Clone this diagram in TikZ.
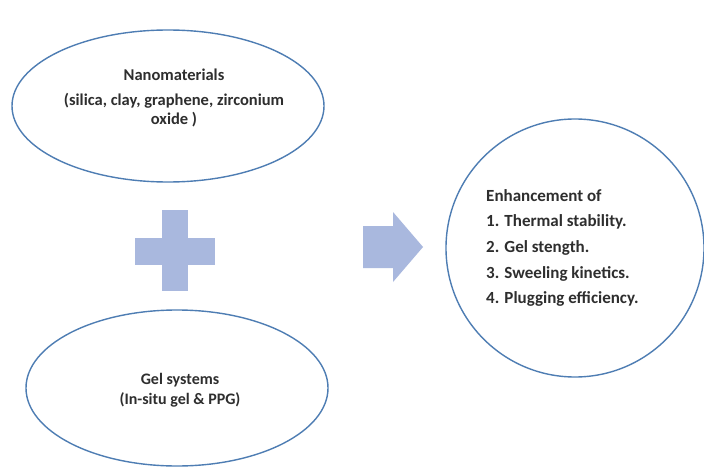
\documentclass[tikz,border=0pt]{standalone}
\usepackage{fontspec}
\setmainfont{Carlito}
\usetikzlibrary{shapes.geometric}
\definecolor{rim}{HTML}{4E7DB3}
\definecolor{blocktint}{HTML}{A9B8DE}
\definecolor{ink}{HTML}{2E2E2E}
\tikzset{
  bubble/.style={draw=rim, line width=1.4pt, fill=white, ellipse, inner sep=0pt},
  txtstyle/.style={text=ink, font=\bfseries\fontsize{16.5}{19.5}\selectfont, align=center, inner sep=0pt},
}
\begin{document}
\begin{tikzpicture}[x=1pt,y=-1pt]
\useasboundingbox[fill=white] (0,0) rectangle (704,468);
% top ellipse
\node[bubble, minimum width=312pt, minimum height=152pt] (nano) at (168,106) {};
\node[txtstyle] (nanot) at (174,98) {Nanomaterials\\[5pt](silica, clay, graphene, zirconium\\oxide )};
% bottom ellipse
\node[bubble, minimum width=302pt, minimum height=156pt] (gel) at (177,388) {};
\node[txtstyle, font=\bfseries\fontsize{16}{17}\selectfont] (gelt) at (180,390) {Gel systems\\[3pt](In-situ gel \& PPG)};
% plus
\fill[blocktint] (162,210) rectangle (188,291);
\fill[blocktint] (135,238) rectangle (215,265);
% arrow
\coordinate (arrtip) at (423,247);
\fill[blocktint] (363,226) -- (393,226) -- (393,212) -- (arrtip) -- (393,282) -- (393,268) -- (363,268) -- cycle;
% circle
\node[draw=rim, line width=1.4pt, circle, minimum size=258pt, inner sep=0pt] (res) at (575,248) {};
\node[text=ink, font=\bfseries\fontsize{17}{25.7}\selectfont, align=left, anchor=north west, inner sep=0pt] (rest) at (486,189)
  {Enhancement of\\1. Thermal stability.\\2. Gel stength.\\3. Sweeling kinetics.\\4. Plugging efficiency.};
\end{tikzpicture}
\end{document}
